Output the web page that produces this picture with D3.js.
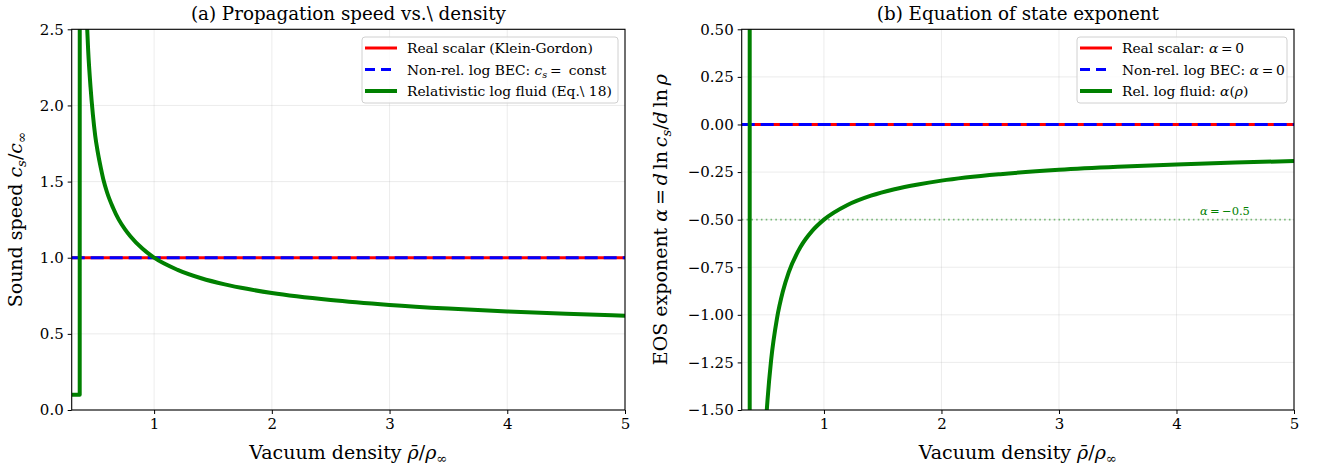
<!DOCTYPE html>
<html><head><meta charset="utf-8">
<script src="https://cdn.jsdelivr.net/npm/d3@7"></script>
<style>body{margin:0;background:#fff} text{font-family:"DejaVu Serif",serif;fill:#000}</style>
</head><body><svg id="c" width="1323" height="470"></svg>
<script>
// ---------- data ----------
const rhoSpeed = [0.30,0.33,0.36,0.368,0.370,0.38,0.39,0.40,0.41,0.42,0.43,0.44,0.46,0.48,0.50,0.52,0.55,0.57,0.60,0.65,0.70,0.75,0.80,0.90,1.0,1.2,1.4,1.6,1.8,2.0,2.5,3.0,3.5,4.0,4.5,5.0];
const csRel = [0.1,0.1,0.1,0.1,13.2,5.56,4.14,3.46,3.04,2.75,2.53,2.36,2.12,1.94,1.80,1.70,1.58,1.51,1.43,1.33,1.25,1.19,1.14,1.06,1.00,0.92,0.865,0.825,0.794,0.768,0.722,0.690,0.666,0.647,0.632,0.619];
const rhoFlat = [0.30, 5.0];
const csScalar = [1.0, 1.0];
const csBEC = [1.0, 1.0];

const rhoEos = [0.30,0.33,0.36,0.366,0.370,0.38,0.40,0.42,0.45,0.48,0.50,0.52,0.55,0.60,0.65,0.70,0.80,0.90,1.0,1.2,1.4,1.6,1.8,2.0,2.5,3.0,3.5,4.0,4.5,5.0];
const alphaRel = [2.45,4.60,23.0,98,-87.7,-15.4,-5.97,-3.77,-2.48,-1.88,-1.63,-1.445,-1.24,-1.02,-0.878,-0.777,-0.644,-0.559,-0.5,-0.423,-0.374,-0.340,-0.315,-0.295,-0.261,-0.238,-0.222,-0.210,-0.200,-0.192];
const alphaScalar = [0, 0];
const alphaBEC = [0, 0];
const alphaRef = -0.5;

const xTicks = [1,2,3,4,5];
const yTicksA = [0,0.5,1.0,1.5,2.0,2.5];
const yTicksB = [0.5,0.25,0,-0.25,-0.5,-0.75,-1.0,-1.25,-1.5];

// ---------- helpers ----------
const svg = d3.select("#c");
function rich(sel, parts, size){
  let pend = 0;
  parts.forEach(p=>{
    let ts;
    if(typeof p === "string"){ ts = sel.append("tspan").text(p); }
    else if(p.i){ ts = sel.append("tspan").attr("font-style","italic").text(p.i); }
    else if(p.sub){ ts = sel.append("tspan").attr("font-style","italic").attr("font-size",size*0.7).text(p.sub);
      ts.attr("dy", pend + size*0.22); pend = -size*0.22; return; }
    if(pend){ ts.attr("dy",pend); pend = 0; }
  });
}

function panel(opt){
  const {x0,x1,y0,y1,ydom,yticks,fmt,id} = opt;
  const x = d3.scaleLinear().domain([0.3,5]).range([x0,x1]);
  const y = d3.scaleLinear().domain(ydom).range([y1,y0]);
  const g = svg.append("g");
  g.append("clipPath").attr("id",id).append("rect").attr("x",x0).attr("y",y0).attr("width",x1-x0).attr("height",y1-y0);
  g.append("g").selectAll("line").data(xTicks).join("line")
    .attr("x1",d=>x(d)).attr("x2",d=>x(d)).attr("y1",y0).attr("y2",y1)
    .attr("stroke","#b0b0b0").attr("stroke-opacity",0.3).attr("stroke-width",0.8);
  g.append("g").selectAll("line").data(yticks).join("line")
    .attr("x1",x0).attr("x2",x1).attr("y1",d=>y(d)).attr("y2",d=>y(d))
    .attr("stroke","#b0b0b0").attr("stroke-opacity",0.3).attr("stroke-width",0.8);
  const ax = g.append("g").attr("transform",`translate(0,${y1})`)
    .call(d3.axisBottom(x).tickValues(xTicks).tickFormat(d3.format("d")).tickSize(4).tickPadding(4));
  const ay = g.append("g").attr("transform",`translate(${x0},0)`)
    .call(d3.axisLeft(y).tickValues(yticks).tickFormat(fmt).tickSize(4).tickPadding(4));
  [ax,ay].forEach(a=>{a.select(".domain").remove(); a.selectAll("text").attr("font-size",15).attr("font-family","DejaVu Serif").attr("fill","#000");
    a.selectAll("line").attr("stroke","#000").attr("stroke-width",1);});
  const plot = g.append("g").attr("clip-path",`url(#${id})`);
  return {x,y,g,plot};
}

function spines(p,x0,x1,y0,y1){
  p.g.append("rect").attr("x",x0).attr("y",y0).attr("width",x1-x0).attr("height",y1-y0)
    .attr("fill","none").attr("stroke","#000").attr("stroke-width",1.1);
}

function drawLines(p, sets){
  sets.forEach(s=>{
    const line = d3.line().x((d,i)=>p.x(s.xs[i])).y(d=>p.y(d)).curve(s.curve||d3.curveLinear);
    p.plot.append("path").datum(s.ys).attr("d",line).attr("fill","none")
      .attr("stroke",s.color).attr("stroke-width",s.w).attr("stroke-dasharray",s.dash||null)
      .attr("stroke-linejoin","round");
  });
}

function legend(g, bx, by, bw, bh, items){
  g.append("rect").attr("x",bx).attr("y",by).attr("width",bw).attr("height",bh).attr("rx",3)
    .attr("fill","#fff").attr("fill-opacity",0.8).attr("stroke","#d0d0d0").attr("stroke-width",1);
  items.forEach((it,i)=>{
    const yy = by + 11 + i*21.5;
    g.append("line").attr("x1",bx+3).attr("x2",bx+35).attr("y1",yy).attr("y2",yy)
      .attr("stroke",it.color).attr("stroke-width",it.w).attr("stroke-dasharray",it.dash||null);
    const t = g.append("text").attr("x",bx+45).attr("y",yy+5).attr("font-size",13.8);
    rich(t, it.parts, 13.8);
  });
}

const TS = "\u2009";
// ---------- panel (a) ----------
const A = {x0:71.7,x1:625,y0:29.3,y1:410};
const pa = panel({...A, ydom:[0,2.5], yticks:yTicksA, fmt:d3.format(".1f"), id:"clipA"});
drawLines(pa, [
  {xs:rhoFlat, ys:csScalar, color:"#ff0000", w:3},
  {xs:rhoFlat, ys:csBEC, color:"#0000ff", w:3, dash:"13,6"},
  {xs:rhoSpeed, ys:csRel, color:"#008000", w:4, curve:d3.curveMonotoneX}
]);
spines(pa,A.x0,A.x1,A.y0,A.y1);
legend(pa.g, 362, 37, 256, 66, [
  {color:"#ff0000", w:3, parts:["Real scalar (Klein-Gordon)"]},
  {color:"#0000ff", w:3, dash:"10,6", parts:["Non-rel. log BEC: ",{i:"c"},{sub:"s"},TS+"="+TS+" const"]},
  {color:"#008000", w:4, parts:["Relativistic log fluid (Eq.\\ 18)"]}
]);
svg.append("text").attr("x",(A.x0+A.x1)/2).attr("y",20).attr("text-anchor","middle").attr("font-size",18.3)
  .text("(a) Propagation speed vs.\\ density");
{
  const t = svg.append("text").attr("x",(A.x0+A.x1)/2).attr("y",459).attr("text-anchor","middle").attr("font-size",19);
  rich(t, ["Vacuum density ",{i:"\u03c1\u0304"},"/",{i:"\u03c1"},{sub:"\u221e"}], 19);
  const t2 = svg.append("text").attr("transform",`translate(22,${(A.y0+A.y1)/2}) rotate(-90)`).attr("text-anchor","middle").attr("font-size",19);
  rich(t2, ["Sound speed ",{i:"c"},{sub:"s"},"/",{i:"c"},{sub:"\u221e"}], 19);
}

// ---------- panel (b) ----------
const B = {x0:741.7,x1:1294,y0:29.3,y1:410};
const minusFmt = d=> d3.format(".2f")(d).replace("-","\u2212");
const pb = panel({...B, ydom:[-1.5,0.5], yticks:yTicksB, fmt:minusFmt, id:"clipB"});
pb.plot.append("line").attr("x1",B.x0).attr("x2",B.x1).attr("y1",pb.y(alphaRef)).attr("y2",pb.y(alphaRef))
  .attr("stroke","#008000").attr("stroke-opacity",0.5).attr("stroke-width",1.6).attr("stroke-dasharray","1.6,3.2");
drawLines(pb, [
  {xs:rhoFlat, ys:alphaScalar, color:"#ff0000", w:3},
  {xs:rhoFlat, ys:alphaBEC, color:"#0000ff", w:3, dash:"13,6"},
  {xs:rhoEos, ys:alphaRel, color:"#008000", w:4, curve:d3.curveMonotoneX}
]);
spines(pb,B.x0,B.x1,B.y0,B.y1);
{
  const t = pb.g.append("text").attr("x",pb.x(4.2)).attr("y",pb.y(alphaRef)-5).attr("font-size",11.5).attr("fill","#008000");
  rich(t, [{i:"\u03b1"},TS+"="+TS+"\u22120.5"], 11.5);
  t.selectAll("tspan").attr("fill","#008000");
}
legend(pb.g, 1077, 37, 210, 66, [
  {color:"#ff0000", w:3, parts:["Real scalar: ",{i:"\u03b1"},TS+"="+TS+"0"]},
  {color:"#0000ff", w:3, dash:"10,6", parts:["Non-rel. log BEC: ",{i:"\u03b1"},TS+"="+TS+"0"]},
  {color:"#008000", w:4, parts:["Rel. log fluid: ",{i:"\u03b1"},"(",{i:"\u03c1"},")"]}
]);
svg.append("text").attr("x",(B.x0+B.x1)/2).attr("y",20).attr("text-anchor","middle").attr("font-size",18.3)
  .text("(b) Equation of state exponent");
{
  const t = svg.append("text").attr("x",(B.x0+B.x1)/2).attr("y",459).attr("text-anchor","middle").attr("font-size",19);
  rich(t, ["Vacuum density ",{i:"\u03c1\u0304"},"/",{i:"\u03c1"},{sub:"\u221e"}], 19);
  const t2 = svg.append("text").attr("transform",`translate(667,${(B.y0+B.y1)/2}) rotate(-90)`).attr("text-anchor","middle").attr("font-size",19);
  rich(t2, ["EOS exponent ",{i:"\u03b1"},TS+"="+TS,{i:"d"},TS+"ln"+TS,{i:"c"},{sub:"s"},"/",{i:"d"},TS+"ln"+TS,{i:"\u03c1"}], 19);
}
</script></body></html>
